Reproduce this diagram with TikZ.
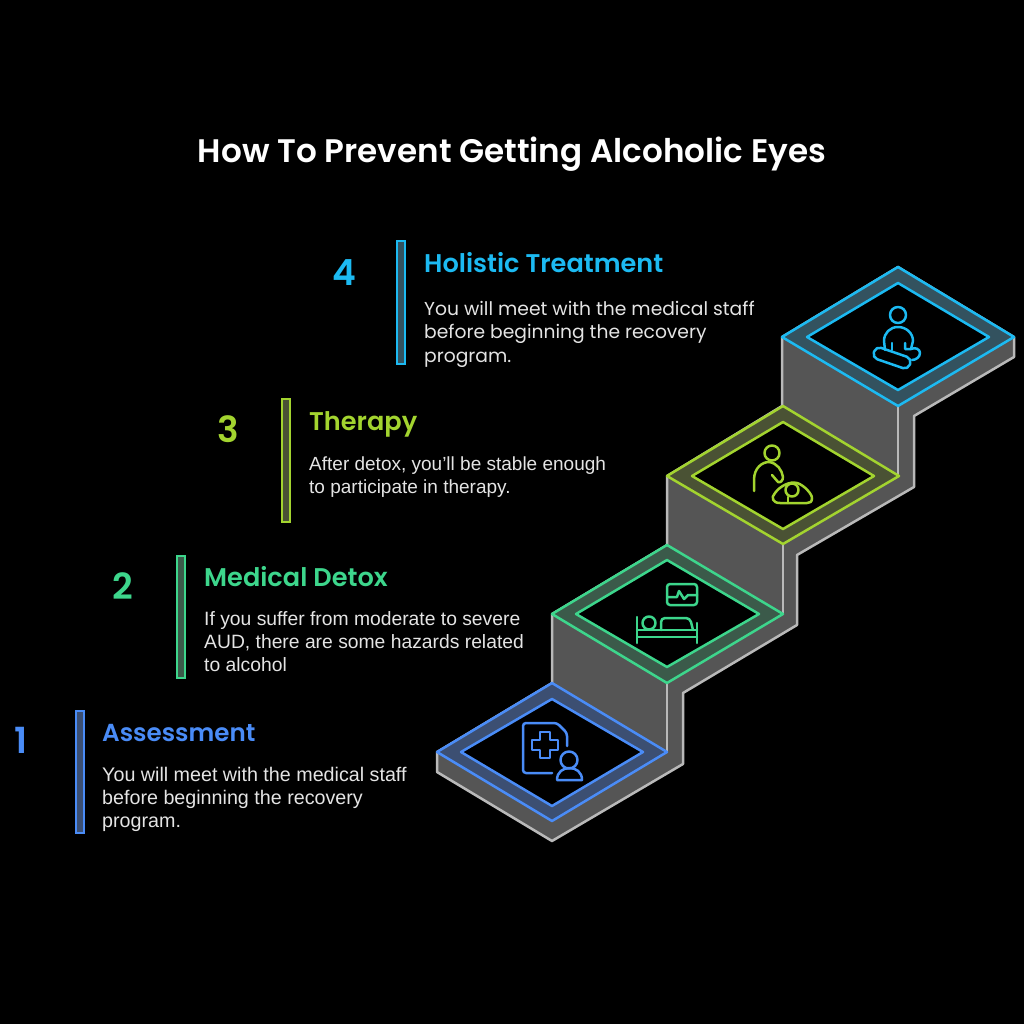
\documentclass[tikz,border=0pt]{standalone}
\usepackage{fontspec}
\setmainfont{Liberation Sans}
\newfontfamily\headfont{Poppins}[BoldFont={Poppins SemiBold}]
\newfontfamily\roundfont{Poppins}
\definecolor{pageblack}{HTML}{000000}
\definecolor{bodygray}{HTML}{555555}
\definecolor{edgegray}{HTML}{B9B9B9}
\definecolor{textgray}{HTML}{E4E4E4}
\definecolor{stepblue}{HTML}{4A8CF7}
\definecolor{stepgreen}{HTML}{3DD68C}
\definecolor{stepolive}{HTML}{A3D42F}
\definecolor{stepcyan}{HTML}{1CBAF2}
\definecolor{ringblue}{HTML}{3C4F72}
\definecolor{ringgreen}{HTML}{3B5A4A}
\definecolor{ringolive}{HTML}{4A5234}
\definecolor{ringcyan}{HTML}{33525F}
\tikzset{
    numlabel/.style={anchor=base, font=\headfont\bfseries\fontsize{36}{36}\selectfont},
    headlabel/.style={anchor=base west, inner sep=0pt, font=\headfont\bfseries\fontsize{25.6}{26}\selectfont},
    bodylabel/.style={anchor=base west, align=left, inner sep=0pt, text=textgray, font=\fontsize{19.3}{23}\selectfont},
    iconline/.style={line width=2.5pt, line cap=round, line join=round},
}
\begin{document}
\begin{tikzpicture}[x=1pt, y=-1pt]
    \useasboundingbox (0, 0) rectangle (1024, 1024);
    \fill[pageblack] (0, 0) rectangle (1024, 1024);

    \node[anchor=base, text=white, font=\headfont\bfseries\fontsize{32.6}{33}\selectfont] (title) at (512, 163) {How To Prevent Getting Alcoholic Eyes};

    % the stairs
    \draw[fill=bodygray, draw=edgegray, line width=2.5pt, line join=round]
        (437, 752) -- (437, 772) -- (552, 841) -- (683, 764) -- (683, 693) -- (797, 625)
        -- (797, 555) -- (914, 487) -- (914, 416) -- (1014, 357) -- (1014, 337)
        -- (898, 267) -- (782, 337) -- (782, 406) -- (667, 476) -- (667, 545)
        -- (552, 614) -- (552, 683) -- cycle;
    \draw[edgegray, line width=2.5pt] (667, 683) -- (667, 752);
    \draw[edgegray, line width=2.5pt] (783, 544) -- (783, 614);
    \draw[edgegray, line width=2.5pt] (898, 406) -- (898, 476);

    % step tops
    \draw[stepblue, fill=ringblue, line width=2.5pt, line join=round] (437, 752) -- (552, 683) -- (667, 752) -- (552, 821) -- cycle;
    \draw[stepblue, fill=black, line width=2.5pt, line join=round] (461, 752) -- (552, 699) -- (643, 752) -- (552, 806) -- cycle;
    \draw[stepgreen, fill=ringgreen, line width=2.5pt, line join=round] (552, 614) -- (667, 545) -- (783, 614) -- (667, 683) -- cycle;
    \draw[stepgreen, fill=black, line width=2.5pt, line join=round] (576, 614) -- (667, 560) -- (759, 614) -- (667, 667) -- cycle;
    \draw[stepolive, fill=ringolive, line width=2.5pt, line join=round] (667, 476) -- (783, 406) -- (899, 476) -- (783, 544) -- cycle;
    \draw[stepolive, fill=black, line width=2.5pt, line join=round] (692, 476) -- (783, 422) -- (874, 476) -- (783, 529) -- cycle;
    \draw[stepcyan, fill=ringcyan, line width=2.5pt, line join=round] (782, 337) -- (898, 267) -- (1014, 337) -- (898, 406) -- cycle;
    \draw[stepcyan, fill=black, line width=2.5pt, line join=round] (807, 337) -- (898, 283) -- (989, 337) -- (898, 390) -- cycle;

    % icon 1
    \draw[iconline, stepblue, rounded corners=3pt] (552, 773) -- (523, 773) -- (523, 723) -- (557, 723) -- (567, 733) -- (567, 746);
    \draw[iconline, stepblue] (540, 732) -- (550, 732) -- (550, 740) -- (558, 740) -- (558, 750) -- (550, 750) -- (550, 758)
        -- (540, 758) -- (540, 750) -- (532, 750) -- (532, 740) -- (540, 740) -- cycle;
    \draw[iconline, stepblue] (569, 760) circle (8.5);
    \draw[iconline, stepblue] (557, 780) -- (582, 780) .. controls (582, 772) and (576, 768) .. (569.5, 768) .. controls (563, 768) and (557, 772) .. (557, 780);

    % icon 2
    \draw[iconline, stepgreen, rounded corners=3pt] (667, 584) rectangle (697, 605);
    \draw[iconline, stepgreen] (668, 597) -- (677, 597) -- (679, 591) -- (684, 599) -- (688, 595) -- (697, 595);
    \draw[iconline, stepgreen] (637, 617) -- (637, 643);
    \draw[iconline, stepgreen] (697, 623) -- (697, 643);
    \draw[iconline, stepgreen] (637, 630) -- (697, 630);
    \draw[iconline, stepgreen] (637, 637) -- (697, 637);
    \draw[iconline, stepgreen] (649, 623) circle (6.5);
    \draw[iconline, stepgreen, rounded corners=4pt] (661, 630) -- (661, 618) -- (690, 618) -- (693, 630);

    % icon 3
    \draw[iconline, stepolive] (772, 453) circle (7.5);
    \draw[iconline, stepolive] (754, 491) -- (754, 480) .. controls (754, 468) and (762, 462) .. (769, 462)
        .. controls (777, 463) and (782, 470) .. (783, 477) .. controls (783, 481) and (780, 483) .. (778, 482) -- (772, 475);
    \draw[iconline, stepolive] (780, 503) .. controls (772, 503) and (771, 497) .. (775, 493) .. controls (780, 486) and (790, 481) .. (797, 483)
        .. controls (804, 485) and (812, 494) .. (812, 498) .. controls (812, 502) and (810, 503) .. (807, 503) -- cycle;
    \draw[iconline, stepolive] (792, 490) circle (6.5);
    \draw[iconline, stepolive] (788, 497) -- (788, 503);

    % icon 4
    \draw[iconline, stepcyan] (898, 315) circle (8);
    \draw[iconline, stepcyan] (885, 350) -- (884, 341) .. controls (884, 333) and (890, 327) .. (898, 327)
        .. controls (906, 327) and (913, 333) .. (913, 341) -- (911, 349);
    \draw[iconline, stepcyan, rounded corners=5.5pt, rotate around={-19:(892, 358)}] (873, 352) rectangle (911, 364);
    \draw[iconline, stepcyan] (892, 343) -- (892, 350);
    \draw[iconline, stepcyan] (905, 343) -- (905, 349) -- (911, 349) .. controls (915, 347) and (920, 349) .. (920, 353)
        .. controls (920, 357) and (916, 360) .. (912, 360);

    % bars
    \draw[stepblue, fill=ringblue, line width=2.5pt] (76, 711) rectangle (84, 833);
    \draw[stepgreen, fill=ringgreen, line width=2.5pt] (177, 556) rectangle (185, 678);
    \draw[stepolive, fill=ringolive, line width=2.5pt] (282, 399) rectangle (290, 522);
    \draw[stepcyan, fill=ringcyan, line width=2.5pt] (397, 241) rectangle (405, 364);

    % labels
    \node[numlabel, text=stepblue] (num1) at (21, 753) {1};
    \node[numlabel, text=stepgreen] (num2) at (123, 599) {2};
    \node[numlabel, text=stepolive] (num3) at (228, 442) {3};
    \node[numlabel, text=stepcyan] (num4) at (344, 285) {4};

    \node[headlabel, text=stepblue, font=\headfont\bfseries\fontsize{24.6}{25}\selectfont] (head1) at (102, 741) {Assessment};
    \node[headlabel, text=stepgreen] (head2) at (204, 586) {Medical Detox};
    \node[headlabel, text=stepolive] (head3) at (309, 430) {Therapy};
    \node[headlabel, text=stepcyan] (head4) at (424, 272) {Holistic Treatment};

    \node[bodylabel, font=\fontsize{19.7}{23}\selectfont] (body1) at (102, 827) {You will meet with the medical staff\\before beginning the recovery\\program.};
    \node[bodylabel] (body2) at (204, 671) {If you suffer from moderate to severe\\AUD, there are some hazards related\\to alcohol};
    \node[bodylabel, font=\fontsize{19}{23}\selectfont] (body3) at (309, 493) {After detox, you’ll be stable enough\\to participate in therapy.};
    \node[bodylabel, font=\roundfont\fontsize{18.7}{23.5}\selectfont] (body4) at (424, 362) {You will meet with the medical staff\\before beginning the recovery\\program.};
\end{tikzpicture}
\end{document}
